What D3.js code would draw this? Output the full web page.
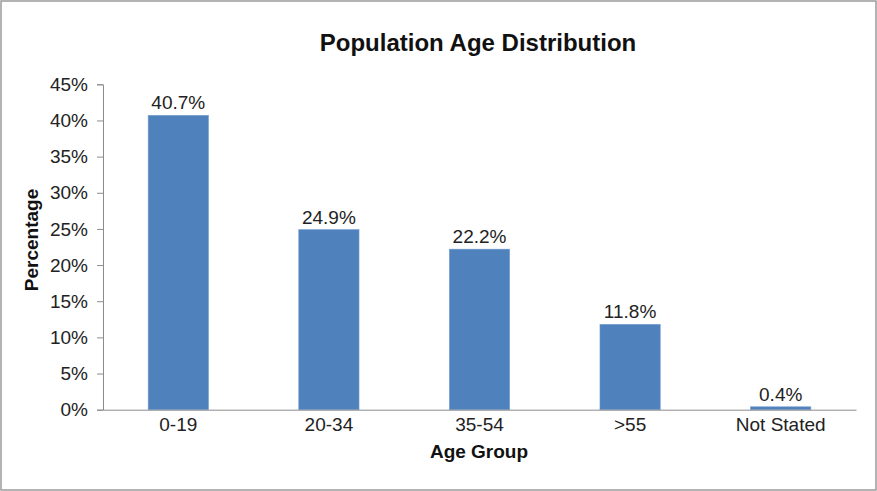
<!DOCTYPE html>
<html><head><meta charset="utf-8">
<script src="https://cdn.jsdelivr.net/npm/d3@7"></script>
<style>body{margin:0;background:#fff;font-family:"Liberation Sans",Arial,sans-serif;}</style>
</head><body>
<svg id="c" width="877" height="491"></svg>
<script>
const categories = ["0-19","20-34","35-54",">55","Not Stated"];
const values = [40.7,24.9,22.2,11.8,0.4];
const yTicks = [0,5,10,15,20,25,30,35,40,45];

const FONT="Liberation Sans, Arial, sans-serif";
const svg = d3.select("#c");
const W=877,H=491;
svg.append("rect").attr("x",1).attr("y",1).attr("width",W-2).attr("height",H-2)
  .attr("fill","#fff").attr("stroke","#9a9a9a").attr("stroke-width",1.5);

const m={left:103,right:856,top:84.3,bottom:409.7};
const x=d3.scaleBand().domain(categories).range([m.left,m.right]).paddingInner(0.6).paddingOuter(0.3);
const y=d3.scaleLinear().domain([0,45]).range([m.bottom,m.top]);

svg.selectAll("rect.bar").data(values).join("rect").attr("class","bar")
  .attr("x",(d,i)=>x(categories[i])).attr("width",x.bandwidth())
  .attr("y",d=>y(d)).attr("height",d=>y(0)-y(d))
  .attr("fill","#4f81bd").attr("stroke","#6f9ad0").attr("stroke-width",0.6);

const yAxis=svg.append("g").attr("transform",`translate(${m.left},0)`)
  .call(d3.axisLeft(y).tickValues(yTicks).tickFormat(d=>d+"%").tickSize(6).tickPadding(9));
yAxis.select(".domain").attr("stroke","#8c8c8c");
yAxis.selectAll(".tick line").attr("stroke","#8c8c8c");
yAxis.selectAll("text").attr("font-size",19).attr("fill","#222").attr("font-family",FONT);

const xAxis=svg.append("g").attr("transform",`translate(0,${m.bottom})`)
  .call(d3.axisBottom(x).tickSize(0).tickPadding(8).tickSizeOuter(0));
xAxis.select(".domain").attr("stroke","#8c8c8c");
xAxis.selectAll("text").attr("font-size",19).attr("fill","#222").attr("font-family",FONT);

svg.selectAll("text.val").data(values).join("text").attr("class","val")
  .attr("x",(d,i)=>x(categories[i])+x.bandwidth()/2).attr("y",d=>y(d)-6)
  .attr("text-anchor","middle").attr("font-size",19).attr("fill","#222").attr("font-family",FONT)
  .text(d=>d.toFixed(1)+"%");

svg.append("text").attr("x",478).attr("y",51).attr("text-anchor","middle").attr("font-family",FONT)
  .attr("font-size",24).attr("font-weight","bold").attr("fill","#111").text("Population Age Distribution");
svg.append("text").attr("x",479).attr("y",458).attr("text-anchor","middle").attr("font-family",FONT)
  .attr("font-size",19).attr("font-weight","bold").attr("fill","#111").text("Age Group");
svg.append("text").attr("transform","translate(38,240) rotate(-90)").attr("text-anchor","middle").attr("font-family",FONT)
  .attr("font-size",19).attr("font-weight","bold").attr("fill","#111").text("Percentage");
</script>
</body></html>
